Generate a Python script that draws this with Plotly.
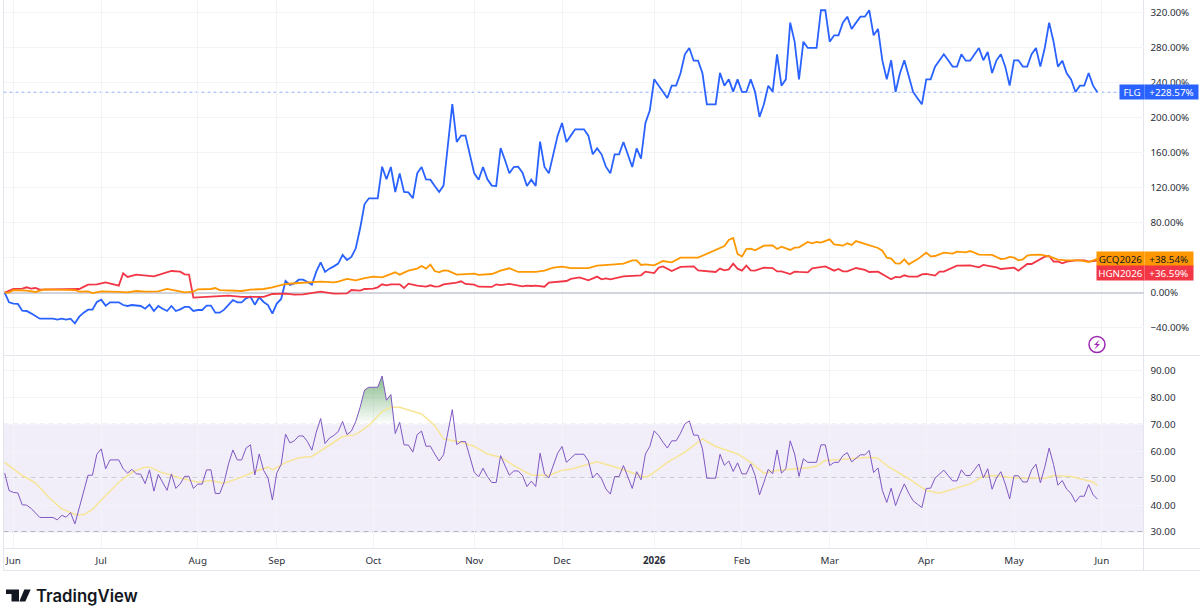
# -*- coding: utf-8 -*-
# FLG vs gold and copper futures, % change, with RSI pane below
import numpy as np
import plotly.graph_objects as go

# tick labels
month_bars = [2, 22, 44, 62, 84, 107, 127, 148, 168, 188, 210, 230, 250]
month_labels = ["Jun", "Jul", "Aug", "Sep", "Oct", "Nov", "Dec", "<b>2026</b>", "Feb", "Mar", "Apr", "May", "Jun"]
pct_ticks = [-40, 0, 40, 80, 120, 160, 200, 240, 280, 320]
pct_labels = ["−40.00%", "0.00%", "40.00%", "80.00%", "120.00%", "160.00%", "200.00%", "240.00%", "280.00%", "320.00%"]
rsi_ticks = [30, 40, 50, 60, 70, 80, 90]
rsi_labels = ["30.00", "40.00", "50.00", "60.00", "70.00", "80.00", "90.00"]
rsi_levels = [30, 50, 70]

# FLG % change, one value per bar
flg_pct = [
    0, -11.0, -12.5, -12.9, -20.5, -20.9, -23.6, -27.0, -29.7, -29.7,
    -29.7, -29.7, -30.8, -29.7, -30.8, -29.7, -35.0, -27.4, -22.8, -19.4,
    -19.4, -10.6, -8.0, -14.8, -11.0, -11.0, -11.0, -14.1, -15.2, -14.1,
    -14.8, -15.2, -18.3, -13.7, -20.9, -15.2, -18.3, -20.9, -15.2, -20.9,
    -19.0, -16.3, -16.3, -20.9, -19.8, -19.8, -14.8, -14.8, -22.8, -22.8,
    -19.4, -13.3, -8.4, -11.0, -11.0, -6.5, -4.6, -13.7, -5.3, -10.6,
    -14.1, -24.0, -12.5, -7.2, 13.3, 8.7, 10.6, 14.8, 14.8, 12.2,
    9.1, 24.0, 34.6, 23.6, 27.4, 30.0, 33.1, 43.0, 37.3, 40.7,
    50.6, 73.4, 101.1, 107.6, 107.6, 107.6, 143.7, 129.3, 143.3, 114.8,
    136.1, 114.8, 114.4, 107.6, 136.1, 143.3, 129.3, 128.9, 121.7, 114.8,
    122.1, 166.5, 215.2, 171.9, 179.1, 179.1, 157.8, 136.1, 128.9, 143.3,
    129.3, 122.1, 121.7, 165.0, 151.3, 136.1, 143.3, 143.7, 136.9, 121.7,
    128.9, 121.7, 172.2, 143.3, 136.1, 157.0, 179.1, 193.5, 171.9, 179.1,
    186.3, 186.3, 186.3, 179.1, 157.8, 164.6, 157.8, 143.7, 136.1, 157.8,
    157.8, 171.9, 157.8, 143.3, 164.6, 152.9, 193.5, 207.6, 243.3, 236.5,
    229.3, 222.1, 236.1, 236.1, 250.2, 271.9, 279.1, 264.6, 264.6, 250.2,
    214.8, 214.8, 214.8, 250.6, 236.1, 243.3, 229.3, 243.3, 228.9, 228.9,
    243.3, 228.9, 200.4, 214.8, 236.1, 229.3, 271.9, 236.1, 243.3, 308.0,
    286.3, 243.3, 286.3, 279.1, 279.1, 279.1, 322.1, 322.1, 286.3, 293.5,
    293.5, 308.0, 314.8, 300.8, 308.0, 314.8, 314.8, 322.1, 293.5, 300.8,
    264.6, 243.3, 265.0, 228.9, 250.2, 265.0, 247.1, 228.9, 221.7, 214.8,
    243.3, 243.3, 257.8, 265.0, 271.9, 265.0, 257.8, 257.8, 271.9, 264.6,
    264.6, 271.9, 279.1, 265.0, 274.5, 250.6, 265.0, 271.9, 257.8, 236.1,
    265.0, 265.0, 257.8, 257.8, 271.9, 279.1, 257.8, 279.1, 308.0, 286.3,
    257.8, 264.6, 250.2, 243.3, 228.9, 236.1, 236.1, 250.6, 236.1, 228.57,
]

# RSI, one value per bar
rsi = [
    51.9, 45.4, 44.7, 44.5, 40.1, 40.0, 38.8, 37.1, 35.4, 35.4,
    35.4, 35.4, 34.5, 36.2, 35.5, 37.2, 33.0, 39.2, 44.8, 51.1,
    51.1, 58.9, 60.9, 53.5, 56.8, 56.8, 56.8, 53.5, 51.9, 53.3,
    51.6, 51.5, 48.0, 53.1, 45.2, 51.4, 48.4, 45.5, 51.6, 46.2,
    47.9, 50.7, 50.7, 46.2, 47.8, 47.8, 53.1, 53.1, 44.3, 44.3,
    48.5, 55.3, 60.5, 56.8, 56.8, 61.2, 62.4, 51.2, 59.0, 52.9,
    50.1, 41.9, 51.9, 55.1, 66.4, 63.1, 63.9, 65.7, 65.7, 63.6,
    60.4, 67.1, 72.2, 62.9, 64.9, 65.9, 67.3, 71.1, 66.2, 67.5,
    71.1, 76.4, 82.8, 83.8, 83.8, 83.8, 88.0, 79.0, 81.1, 66.6,
    70.8, 62.4, 62.3, 59.7, 66.2, 67.5, 61.9, 61.9, 59.0, 56.4,
    58.7, 67.1, 75.5, 62.5, 63.6, 63.6, 57.8, 52.2, 50.5, 53.7,
    50.6, 48.4, 48.4, 58.4, 54.7, 51.1, 52.7, 52.7, 51.0, 46.9,
    48.9, 46.9, 59.3, 51.6, 50.1, 54.7, 59.3, 61.8, 55.9, 57.4,
    58.9, 58.9, 58.9, 56.4, 50.1, 51.9, 49.8, 46.0, 44.1, 50.6,
    50.6, 54.7, 50.6, 46.2, 52.4, 49.4, 59.0, 61.8, 67.6, 65.9,
    63.4, 61.2, 63.9, 63.9, 66.7, 70.2, 71.3, 66.0, 66.0, 60.9,
    50.0, 50.0, 50.0, 58.9, 54.8, 56.4, 52.5, 55.7, 51.6, 51.6,
    55.3, 51.0, 43.8, 48.4, 53.3, 51.6, 60.5, 51.9, 53.5, 63.9,
    59.0, 50.7, 57.2, 55.9, 55.9, 55.9, 62.4, 62.4, 54.7, 55.9,
    55.9, 58.4, 59.5, 56.1, 57.4, 58.7, 58.7, 60.3, 52.1, 53.8,
    45.4, 41.0, 46.3, 39.8, 44.2, 47.9, 44.4, 41.6, 40.3, 39.1,
    46.2, 46.3, 50.0, 51.5, 53.0, 51.0, 49.0, 49.0, 53.1, 51.0,
    51.0, 53.2, 55.3, 50.1, 53.5, 45.9, 50.1, 52.4, 47.9, 42.3,
    50.9, 50.9, 48.6, 48.6, 53.1, 55.2, 48.3, 54.1, 61.2, 55.1,
    47.4, 49.1, 45.9, 44.3, 41.1, 43.3, 43.3, 47.6, 43.9, 42.2,
]

# RSI moving average
sma_bars = [
    0, 4, 7, 10, 13, 16, 18, 20, 23, 26, 29, 32, 33, 36, 40, 44, 47, 50, 54, 57, 60, 61,
    64, 67, 70, 73, 77, 80, 83, 86, 88, 90, 95, 98, 100, 104, 107, 110, 113, 116, 120,
    124, 127, 129, 135, 140, 146, 147, 151, 155, 159, 162, 167, 170, 173, 176, 181,
    184, 185, 187, 192, 197, 199, 201, 206, 210, 213, 216, 220, 223, 226, 230, 237,
    239, 243, 248, 249,
]
sma_vals = [
    55.9, 51.0, 48.3, 42.9, 38.6, 36.5, 36.4, 38.4, 43.6, 48.5, 52.2, 54.1, 54.1, 52.0, 50.1, 48.5, 49.1, 48.1, 50.4, 52.5, 54.1, 53.1,
    55.8, 57.6, 58.1, 61.2, 65.5, 66.2, 69.6, 74.8, 76.4, 76.4, 73.9, 69.6, 64.6, 63.4, 61.8, 59.0, 57.8, 54.7, 51.2,
    51.0, 53.0, 53.3, 56.1, 53.7, 50.4, 51.0, 55.9, 59.7, 64.6, 61.8, 59.0, 55.9, 51.9, 52.9, 53.5,
    54.1, 54.5, 56.6, 57.1, 57.8, 57.4, 54.7, 49.8, 45.4, 44.4, 46.0, 47.9, 50.7, 51.0, 50.1, 50.0,
    51.0, 50.6, 48.6, 47.3,
]

# gold futures GCQ2026 % change
gold_bars = [
    0, 1, 2, 5, 7, 9, 12, 16, 17, 19, 20, 22, 26, 28, 30, 32, 35, 37, 39, 41, 43, 44, 47, 48, 49, 51, 54, 56, 59, 61, 63, 64,
    67, 70, 72, 75, 76, 78, 80, 82, 84, 86, 89, 90, 92, 94, 95, 96, 97, 98, 99, 100, 101, 103, 107, 108, 111, 113, 115, 117,
    121, 123, 125, 127, 129, 133, 135, 139, 141, 143, 144, 145, 146, 148, 150, 152, 154, 158, 164, 165, 166, 167, 168, 169,
    170, 171, 173, 175, 176, 177, 179, 180, 181, 183, 184, 185, 186, 188, 189, 191, 192, 193, 194, 199, 200, 201, 202, 203,
    204, 205, 206, 208, 210, 211, 212, 214, 216, 217, 219, 220, 222, 225, 227, 228, 229, 230, 231, 232, 233, 234, 236, 238,
    240, 242, 245, 247, 249,
]
gold_pct = [
    0, 0, 3.0, 2.3, 0.8, 3.8, 3.4, 3.0, 1.1, 1.5, -0.4, 1.5, 0.8, 0.4, 1.9, 1.1, 1.5, 4.2, 2.3, 0.4, 1.1, 3.8, 4.2, 5.3, 3.0, 2.7, 1.9, 3.4, 4.2, 6.1, 8.7, 9.9,
    11.0, 11.4, 12.5, 11.8, 12.5, 15.6, 14.1, 16.7, 18.3, 17.5, 23.2, 20.5, 25.1, 27.4, 30.4, 27.4, 31.9, 24.7, 23.2, 25.5, 25.1, 20.5, 21.7, 20.2, 21.3, 25.1, 27.8, 23.6,
    23.6, 25.1, 28.5, 29.7, 28.1, 28.1, 30.8, 32.3, 33.1, 36.9, 36.9, 31.6, 32.3, 31.2, 36.1, 34.6, 39.9, 39.9, 53.2, 60.1, 62.4, 44.1, 41.1, 49.8,
    50.2, 48.3, 53.6, 54.0, 49.8, 52.5, 48.7, 51.3, 51.7, 57.8, 56.3, 57.8, 57.0, 60.8, 55.1, 53.6, 56.3, 54.4, 58.9, 51.0, 47.9, 39.9, 38.8, 33.5,
    33.1, 38.0, 32.3, 38.0, 45.6, 41.4, 41.8, 45.6, 44.5, 46.8, 46.0, 47.5, 43.3, 43.0, 38.4, 38.8, 40.7, 39.9, 36.9, 38.0, 42.2, 43.0, 43.3, 41.4,
    37.6, 36.9, 36.9, 35.0, 38.54,
]

# copper futures HGN2026 % change
copper_bars = [
    0, 2, 4, 5, 6, 7, 8, 12, 17, 19, 21, 23, 26, 27, 28, 30, 34, 38, 40, 41, 42, 43, 44, 48, 51, 54, 59, 61, 64, 66, 68, 70,
    72, 75, 78, 79, 81, 82, 84, 85, 86, 87, 88, 90, 91, 92, 94, 96, 97, 98, 99, 100, 103, 104, 105, 107, 108, 111, 112, 113,
    115, 118, 119, 120, 121, 123, 124, 128, 129, 131, 133, 135, 136, 137, 138, 141, 145, 146, 148, 149, 150, 152, 154, 157,
    158, 162, 163, 164, 165, 166, 167, 168, 169, 170, 171, 173, 175, 176, 177, 179, 180, 181, 183, 184, 187, 189, 190, 191,
    192, 194, 196, 197, 199, 202, 203, 204, 205, 206, 208, 209, 210, 212, 213, 214, 217, 220, 222, 223, 226, 227, 230, 231,
    233, 234, 237, 238, 239, 240, 241, 242, 244, 246, 247, 249,
]
copper_pct = [
    0, 4.2, 4.6, 6.1, 4.6, 5.3, 3.4, 3.8, 4.2, 9.1, 9.5, 11.8, 8.0, 22.1, 17.9, 20.5, 18.6, 24.7, 24.0, 20.9, 20.5, -5.7, -5.3, -4.2, -3.4, -4.9, -4.9, -1.5, -1.1, -2.3, -1.9, 0,
    1.1, -1.1, -0.8, 3.0, 2.3, 4.2, 4.6, 6.1, 9.5, 8.4, 9.5, 9.5, 5.3, 10.3, 8.0, 6.8, 8.4, 6.8, 7.2, 9.5, 11.4, 12.9, 9.9, 9.1, 6.8, 6.5, 9.5, 8.7,
    9.9, 7.2, 8.0, 7.6, 8.0, 6.8, 11.4, 13.3, 15.6, 17.5, 14.1, 18.3, 15.2, 16.3, 15.2, 18.6, 19.8, 24.0, 22.4, 28.5, 30.0, 24.7, 29.3, 30.0,
    25.5, 23.6, 27.4, 25.5, 26.6, 33.1, 27.4, 25.1, 30.8, 25.5, 25.1, 28.5, 28.1, 24.3, 24.3, 21.3, 24.0, 23.6, 23.2, 27.8, 30.0, 25.1, 27.0, 24.3,
    24.3, 28.1, 25.9, 23.6, 24.0, 15.2, 17.9, 17.5, 19.8, 18.3, 18.3, 20.9, 21.3, 19.4, 24.0, 24.0, 30.8, 31.2, 28.9, 31.6, 28.9, 27.0, 28.5, 25.1,
    32.7, 32.7, 41.1, 41.8, 35.4, 35.7, 33.5, 35.4, 36.9, 36.9, 35.4, 36.59,
]

BLUE = "#2962ff"
ORANGE = "#ff9800"
RED = "#f23645"
PURPLE = "#7e57c2"
GRID = "#f3f4f7"
BORDER = "#e3e5ec"
TEXT = "#2a2e39"
FONT = "Noto Sans"
W, H = 1200, 609

bars = list(range(len(flg_pct)))
x_range = [-0.27, 259.5]

fig = go.Figure()

# main pane
fig.add_trace(go.Scatter(x=bars, y=flg_pct, mode="lines", line=dict(color=BLUE, width=1.8), name="FLG"))
fig.add_trace(go.Scatter(x=copper_bars, y=copper_pct, mode="lines", line=dict(color=RED, width=1.8), name="HGN2026"))
fig.add_trace(go.Scatter(x=gold_bars, y=gold_pct, mode="lines", line=dict(color=ORANGE, width=1.8), name="GCQ2026"))

# rsi pane, green fill above the 70 level
over = bars[80:91]
fig.add_trace(go.Scatter(x=over, y=[70] * len(over), mode="lines", line=dict(width=0), xaxis="x2", yaxis="y2", hoverinfo="skip"))
fig.add_trace(go.Scatter(
    x=over, y=np.maximum(rsi[80:91], 70), mode="lines", line=dict(width=0), fill="tonexty",
    fillgradient=dict(type="vertical", start=88, stop=70,
                      colorscale=[[0, "rgba(56,142,60,0.6)"], [1, "rgba(56,142,60,0)"]]),
    xaxis="x2", yaxis="y2", hoverinfo="skip"))
fig.add_trace(go.Scatter(x=sma_bars, y=sma_vals, mode="lines", line=dict(color="#f7e596", width=1.5), xaxis="x2", yaxis="y2", name="RSI MA"))
fig.add_trace(go.Scatter(x=bars, y=rsi, mode="lines", line=dict(color=PURPLE, width=1), xaxis="x2", yaxis="y2", name="RSI"))

shapes = []
# last price line of FLG
shapes.append(dict(type="line", xref="x domain", yref="y", x0=0, x1=1, y0=flg_pct[-1], y1=flg_pct[-1],
                   line=dict(color="rgba(41,98,255,0.5)", width=1, dash="dot"), layer="below"))
# rsi band and levels
shapes.append(dict(type="rect", xref="x2 domain", yref="y2", x0=0, x1=1, y0=rsi_levels[0], y1=rsi_levels[-1],
                   fillcolor="rgba(126,87,194,0.1)", line=dict(width=0), layer="below"))
for lev in rsi_levels:
    shapes.append(dict(type="line", xref="x2 domain", yref="y2", x0=0, x1=1, y0=lev, y1=lev,
                       line=dict(color="#787b86", width=1, dash="5px,4px"), layer="below"))


def rule(x0, y0, x1, y1):
    return dict(type="line", xref="paper", yref="paper", x0=x0 / W, x1=x1 / W, y0=1 - y0 / H, y1=1 - y1 / H,
                line=dict(color=BORDER, width=1), layer="below")


# pane borders
shapes.append(rule(3.5, 355.5, W, 355.5))
shapes.append(rule(3.5, 548.5, W, 548.5))
shapes.append(rule(3.5, 570.5, W, 570.5))
shapes.append(rule(3.5, 0, 3.5, 570.5))
shapes.append(rule(1143.5, 0, 1143.5, 570.5))


def fill_path(path, color):
    # path in pixels from the top left corner of the page
    return dict(type="path", xref="paper", yref="paper", xsizemode="pixel", ysizemode="pixel",
                xanchor=0, yanchor=1, path=path, fillcolor=color, line=dict(width=0))


# TradingView logo
shapes.append(fill_path("M 6,-589.5 L 19,-589.5 L 19,-601.5 L 11.5,-601.5 L 11.5,-594 L 6,-594 Z", "#131722"))
shapes.append(fill_path("M 24.7,-591.7 A 2.6,2.6 0 1 1 19.5,-591.7 A 2.6,2.6 0 1 1 24.7,-591.7 Z", "#131722"))
shapes.append(fill_path("M 24.3,-589.5 L 30.7,-589.5 L 25.3,-601.5 L 19.3,-601.5 Z", "#131722"))

# lightning badge
shapes.append(dict(type="circle", xref="paper", yref="paper", xsizemode="pixel", ysizemode="pixel",
                   xanchor=1097 / W, yanchor=1 - 344.5 / H, x0=-8, x1=8, y0=-8, y1=8,
                   line=dict(color="#9c27b0", width=1.5), fillcolor="white"))
shapes.append(dict(type="path", xref="paper", yref="paper", xsizemode="pixel", ysizemode="pixel",
                   xanchor=1097 / W, yanchor=1 - 344.5 / H, path="M 2.5,5 L -3,-0.5 L 0,-0.5 L -2.5,-5 L 3,0.5 L 0,0.5 Z",
                   fillcolor="#9c27b0", line=dict(width=0)))

annotations = []


def tag(text, x0, x1, y, bg, fg, yshift=0):
    annotations.append(dict(
        text=text, xref="paper", yref="y", x=x0 / W, y=y, xanchor="left", yanchor="middle", yshift=yshift,
        width=x1 - x0, height=14, bgcolor=bg, borderpad=0, showarrow=False, align="center",
        font=dict(family=FONT, size=9.8, color=fg)))


tag("FLG", 1119, 1143, flg_pct[-1], BLUE, "white")
tag("+228.57%", 1144, 1197, flg_pct[-1], BLUE, "white")
tag("GCQ2026", 1096, 1143, gold_pct[-1], ORANGE, "#131722")
tag("+38.54%", 1144, 1191.5, gold_pct[-1], ORANGE, "#131722")
tag("HGN2026", 1096, 1143, copper_pct[-1], RED, "white", yshift=-12.4)
tag("+36.59%", 1144, 1191.5, copper_pct[-1], RED, "white", yshift=-12.4)

annotations.append(dict(text="TradingView", xref="paper", yref="paper", x=34 / W, y=1 - 596 / H, xanchor="left",
                        yanchor="middle", showarrow=False, font=dict(family="Inter", size=16.7, color="#131722", weight=600)))

axis_font = dict(family=FONT, size=9.8, color=TEXT)

fig.update_layout(
    width=W, height=H,
    margin=dict(l=0, r=0, t=0, b=0),
    paper_bgcolor="white", plot_bgcolor="white",
    showlegend=False,
    font=dict(family=FONT),
    shapes=shapes,
    annotations=annotations,
    xaxis=dict(domain=[3.5 / W, 1143.5 / W], range=x_range, anchor="y", tickmode="array", tickvals=month_bars,
               showticklabels=False, showgrid=True, gridcolor=GRID, gridwidth=1, zeroline=False, ticks=""),
    yaxis=dict(domain=[(H - 355) / H, 1], range=[-71.1, 333.8], side="right", anchor="x", tickmode="array",
               tickvals=pct_ticks, ticktext=pct_labels, tickfont=axis_font, showgrid=True, gridcolor=GRID, gridwidth=1,
               zeroline=True, zerolinecolor="#d1d4dc", zerolinewidth=2, ticks="outside", ticklen=4, tickcolor="rgba(0,0,0,0)"),
    xaxis2=dict(domain=[3.5 / W, 1143.5 / W], range=x_range, anchor="y2", tickmode="array", tickvals=month_bars,
                ticktext=month_labels, tickangle=0, tickfont=axis_font, showgrid=True, gridcolor=GRID, gridwidth=1,
                zeroline=False, ticks="outside", ticklen=3, tickcolor="rgba(0,0,0,0)"),
    yaxis2=dict(domain=[(H - 548) / H, (H - 355) / H], range=[24.05, 95.8], side="right", anchor="x2", tickmode="array",
                tickvals=rsi_ticks, ticktext=rsi_labels, tickfont=axis_font, showgrid=True, gridcolor=GRID, gridwidth=1,
                zeroline=False, ticks="outside", ticklen=4, tickcolor="rgba(0,0,0,0)"),
)

# page margin off so the chart sits at the window corner
fig.write_html("out.html", config={"displayModeBar": False},
               post_script="document.body.style.margin='0';document.documentElement.style.overflow='hidden';")
